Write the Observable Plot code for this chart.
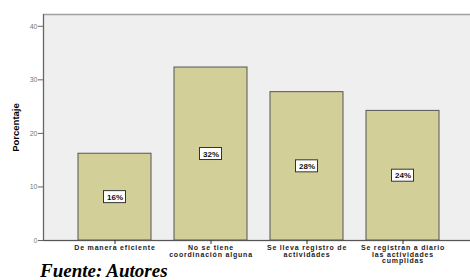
<!DOCTYPE html>
<html><head><meta charset="utf-8">
<script src="https://cdn.jsdelivr.net/npm/d3@7"></script>
<script src="https://cdn.jsdelivr.net/npm/@observablehq/plot@0.6"></script>
<style>
body{margin:0;background:#fff;}
#wrap{position:relative;width:470px;height:280px;overflow:hidden;}
#cap{position:absolute;left:40px;top:261px;line-height:19px;font-family:"Liberation Serif","Times New Roman",serif;font-weight:bold;font-style:italic;font-size:19px;color:#000;white-space:nowrap;}
g[aria-label="x-axis tick label"] text{letter-spacing:0.8px;}
</style></head>
<body><div id="wrap"><div id="chart"></div><div id="cap">Fuente: Autores</div></div>
<script>
const categories = ["De manera eficiente","No se tiene coordinación alguna","Se lleva registro de actividades","Se registran a diario las actividades cumplidas"];
const tickLabels = ["De manera eficiente","No se tiene\ncoordinación alguna","Se lleva registro de\nactividades","Se registran a diario\nlas actividades\ncumplidas"];
const values = [16.2, 32.3, 27.7, 24.2];
const pctLabels = ["16%","32%","28%","24%"];
const yTicks = [0,10,20,30,40];
const yTitle = "Porcentaje";

const data = categories.map((c,i)=>({cat:c, v:values[i], lab:pctLabels[i]}));
const fmt = new Map(categories.map((c,i)=>[c,tickLabels[i]]));

const chart = Plot.plot({
  width: 470, height: 266,
  marginTop: 14, marginBottom: 26, marginLeft: 43, marginRight: -3,
  style: {fontFamily: "Liberation Sans, Arial, sans-serif", background: "transparent"},
  x: {domain: categories, paddingInner: 0.24, paddingOuter: 0.35, label: null},
  y: {domain: [0, 42.2], label: null},
  marks: [
    Plot.frame({fill: "#efefef", stroke: "#a0a0a0", strokeWidth: 1.5}),
    Plot.barY(data, {x: "cat", y: "v", fill: "#d3cf98", stroke: "#555", strokeWidth: 1}),
    Plot.barY(data, {x: "cat", y1: d=>d.v/2, y2: d=>d.v/2, insetLeft: 25.5, insetRight: 25.5, insetTop: -6, insetBottom: -6, fill: "white", stroke: "#333", strokeWidth: 1}),
    Plot.text(data, {x: "cat", y: d=>d.v/2, text: "lab", fontSize: 8, fontWeight: "bold", fill: "#111"}),
    Plot.ruleY([0], {stroke: "#555", strokeWidth: 1}),
    Plot.frame({anchor: "left", stroke: "#666"}),
    Plot.axisY({ticks: yTicks, tickSize: 5, stroke: "#666", fill: "#777", fontSize: 7, tickPadding: 1, label: null}),
    Plot.text([yTitle], {frameAnchor: "left", textAnchor: "middle", dx: -28, rotate: -90, fontSize: 9.5, fontWeight: "bold", fill: "#000"}),
    Plot.axisX({tickSize: 4, stroke: "#333", fill: "#222", fontSize: 7, fontWeight: "bold", tickPadding: 1.5, lineHeight: 0.9, tickFormat: d => fmt.get(d), label: null})
  ]
});
document.getElementById("chart").appendChild(chart);
</script>
</body></html>
